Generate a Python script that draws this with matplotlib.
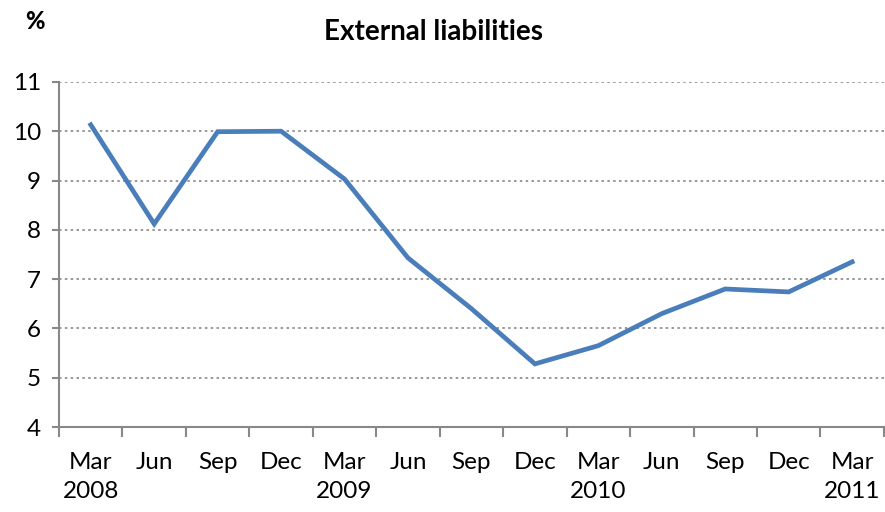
import matplotlib
matplotlib.use("Agg")
import matplotlib.pyplot as plt
import numpy as np

plt.rcParams['font.family'] = ['Lato', 'DejaVu Sans']

quarters = ["Mar\n2008", "Jun", "Sep", "Dec", "Mar\n2009", "Jun", "Sep", "Dec",
            "Mar\n2010", "Jun", "Sep", "Dec", "Mar\n2011"]
external_liabilities = [10.13, 8.12, 9.99, 10.0, 9.03, 7.43, 6.4, 5.28,
                        5.65, 6.3, 6.8, 6.74, 7.35]
y_ticks = [4, 5, 6, 7, 8, 9, 10, 11]

fig = plt.figure(figsize=(8.85, 5.12), dpi=100)
ax = fig.add_axes([0.0667, 0.166, 0.932, 0.674])

x = np.arange(len(quarters))
ax.plot(x, external_liabilities, color="#4A7EBB", lw=3.4, solid_joinstyle="miter")

ax.set_xlim(-0.5, len(quarters) - 0.5)
ax.set_ylim(4, 11)
ax.set_yticks(y_ticks)
ax.set_yticklabels([str(v) for v in y_ticks], fontsize=17.5)
ax.set_xticks(x)
ax.set_xticklabels(quarters, fontsize=17.5, linespacing=1.45)
ax.set_xticks(np.arange(-0.5, len(quarters)), minor=True)
ax.tick_params(axis="x", which="major", length=0, pad=18)
ax.tick_params(axis="x", which="minor", length=7, width=1.5, color="#888888", direction="out")
ax.tick_params(axis="y", length=5, width=1.5, color="#888888", direction="out", pad=8)

ax.grid(axis="y", linestyle=(0, (1.5, 2)), color="#888888", lw=1.2)
ax.set_axisbelow(True)

for side in ("top", "right"):
    ax.spines[side].set_visible(False)
for side in ("left", "bottom"):
    ax.spines[side].set_color("#888888")
    ax.spines[side].set_linewidth(1.5)

fig.text(0.49, 0.937, "External liabilities", ha="center", va="center",
         fontsize=20, fontweight="bold")
fig.text(0.039, 0.958, "%", ha="center", va="center", fontsize=17, fontweight="black")

fig.savefig("out.png", dpi=100)
